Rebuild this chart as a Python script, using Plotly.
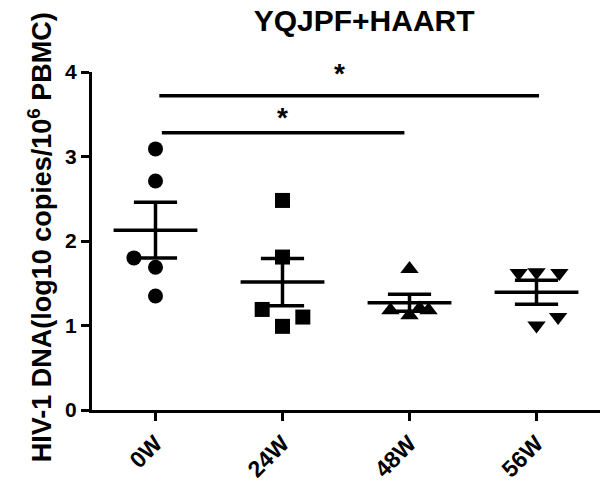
import numpy as np
import plotly.graph_objects as go

# ---------------- data ----------------
title_text = "YQJPF+HAART"
y_label = "HIV-1 DNA(log10 copies/10<sup>6</sup> PBMC)"
categories = ["0W", "24W", "48W", "56W"]
values_0w = [3.09, 2.71, 1.80, 1.69, 1.35]
values_24w = [2.48, 1.81, 1.19, 1.10, 0.99]
values_48w = [1.67, 1.18, 1.12, 1.20, 1.18]
values_56w = [1.62, 1.63, 1.62, 1.10, 1.00]
y_ticks = [0, 1, 2, 3, 4]
comparisons = [(0, 3, "*"), (0, 2, "*")]

# ---------------- style ----------------
groups = [values_0w, values_24w, values_48w, values_56w]
symbols = ["circle", "square", "triangle-up", "triangle-down"]
jitter = [
    [0, 0, -0.17, 0, 0],
    [0, 0, -0.16, 0.16, 0],
    [0, -0.15, 0, 0.08, 0.15],
    [-0.14, 0, 0.18, 0.17, 0],
]
marker_sizes = [15, 15, 16, 16]
mean_half = 0.33
cap_half = 0.17
sig_heights = [3.72, 3.28]
sig_ends = [(0.03, 0.02), (0.05, -0.04)]
star_heights = [3.98, 3.46]
star_x_shift = [-0.05, 0.0]
FONT = "Arial, 'Liberation Sans', sans-serif"

fig = go.Figure()

for i, (vals, sym) in enumerate(zip(groups, symbols)):
    v = np.array(vals, dtype=float)
    mean = v.mean()
    sem = v.std(ddof=1) / np.sqrt(len(v))
    fig.add_trace(go.Scatter(
        x=[i + j for j in jitter[i]], y=vals, mode="markers",
        marker=dict(symbol=sym, size=marker_sizes[i], color="black",
                    line=dict(width=0)),
        showlegend=False, hoverinfo="y"))
    fig.add_trace(go.Scatter(
        x=[i - mean_half, i + mean_half], y=[mean, mean], mode="lines",
        line=dict(color="black", width=3.5), showlegend=False, hoverinfo="skip"))
    fig.add_trace(go.Scatter(
        x=[i, i, None, i - cap_half, i + cap_half, None, i - cap_half, i + cap_half],
        y=[mean - sem, mean + sem, None, mean + sem, mean + sem, None, mean - sem, mean - sem],
        mode="lines", line=dict(color="black", width=3.5),
        showlegend=False, hoverinfo="skip"))

for (a, b, lab), h, sh, (da, db), dx in zip(comparisons, sig_heights, star_heights,
                                           sig_ends, star_x_shift):
    fig.add_trace(go.Scatter(
        x=[a + da, b + db], y=[h, h], mode="lines",
        line=dict(color="black", width=3.5), showlegend=False, hoverinfo="skip"))
    fig.add_annotation(x=(a + b) / 2 + dx, y=sh, text="<b>" + lab + "</b>",
                       showarrow=False, font=dict(family=FONT, size=28, color="black"),
                       xanchor="center", yanchor="middle")

fig.add_annotation(xref="paper", yref="paper", x=-0.103, y=0.51,
                   text="<b>" + y_label + "</b>", textangle=-90,
                   showarrow=False, xanchor="center", yanchor="middle",
                   font=dict(family=FONT, size=27, color="black"))

fig.update_layout(
    width=612, height=488,
    margin=dict(l=92, r=12, t=72, b=78, autoexpand=False),
    paper_bgcolor="white", plot_bgcolor="white",
    title=dict(text="<b>" + title_text + "</b>", xref="container", x=0.595,
               xanchor="center", y=0.957, yanchor="middle",
               font=dict(family=FONT, size=30, color="black")),
    font=dict(family=FONT, color="black"),
)
fig.update_xaxes(
    range=[-0.5, 3.5], tickmode="array", tickvals=list(range(len(categories))),
    ticktext=["<b>" + c + "</b>" for c in categories], tickangle=-45,
    showline=True, linecolor="black", linewidth=3, ticks="outside",
    ticklen=8, tickwidth=3, tickcolor="black", showgrid=False, zeroline=False,
    automargin=False, tickfont=dict(family=FONT, size=23, color="black"))
fig.update_yaxes(
    range=[0, 4], tickmode="array", tickvals=y_ticks,
    ticktext=["<b>%d</b>" % t for t in y_ticks],
    showline=True, linecolor="black", linewidth=3, ticks="outside",
    ticklen=8, tickwidth=3, tickcolor="black", showgrid=False, zeroline=False,
    automargin=False, tickfont=dict(family=FONT, size=21, color="black"))

fig.write_html("out.html", config={"displayModeBar": False},
               post_script="document.body.style.margin='0';")
